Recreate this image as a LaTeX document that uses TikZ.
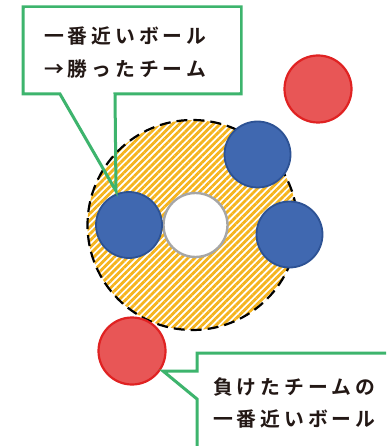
\documentclass[tikz,border=0pt]{standalone}
\usepackage{fontspec}
\usetikzlibrary{patterns.meta}
\newfontfamily\jpfont[LetterSpace=20, BoldFont={Noto Sans CJK JP Bold}]{Noto Sans CJK JP}
\definecolor{hatchorange}{HTML}{F5B41E}
\definecolor{ballblue}{HTML}{4068B0}
\definecolor{ballbluedark}{HTML}{2D5294}
\definecolor{ballred}{HTML}{E85656}
\definecolor{ballreddark}{HTML}{E02222}
\definecolor{callgreen}{HTML}{3DB46D}
\definecolor{txtdark}{HTML}{231815}
\tikzset{
  blueball/.style={circle, minimum size=66pt, inner sep=0pt, fill=ballblue, draw=ballbluedark, line width=1.8pt},
  redball/.style={circle, minimum size=67pt, inner sep=0pt, fill=ballred, draw=ballreddark, line width=2.2pt},
  holeball/.style={circle, minimum size=64pt, inner sep=0pt, fill=white, draw=gray!70, line width=2.4pt},
  zone/.style={circle, minimum size=210pt, inner sep=0pt, draw=black, line width=2.2pt, dash pattern=on 11pt off 6pt,
    pattern={Lines[angle=45, distance=4.8pt, line width=2.8pt]}, pattern color=hatchorange},
  callline/.style={draw=callgreen, line width=3pt, line join=miter},
  calltext/.style={inner sep=0pt, text=txtdark, font=\jpfont\bfseries\fontsize{19.8}{20}\selectfont, anchor=west}
}
\begin{document}
\begin{tikzpicture}[x=1pt, y=-1pt]
\useasboundingbox (0,0) rectangle (386,446);
\clip (0,0) rectangle (386,446);
\fill[white] (0,0) rectangle (386,446);
% zone
\node[zone] (zone) at (192.5,225) {};
\node[holeball] (hole) at (195.5,225) {};
\node[blueball] (b1) at (129,225) {};
\node[blueball] (b2) at (257.5,154.5) {};
\node[blueball] (b3) at (289.5,234.5) {};
\node[redball] (r1) at (318,89) {};
\node[redball] (r2) at (132,351) {};
% top callout
\coordinate (tipA) at (116,191);
\fill[white] (23,7) rectangle (241,94);
\draw[callline] (115,94) -- (241,94) -- (241,7) -- (23,7) -- (23,94) -- (60,94) -- (tipA) -- (115,94) -- cycle;
\fill[white] (24.5,8.5) rectangle (239.5,92.5);
\node[calltext] (t1) at (44,36) {一番近いボール};
\node[calltext] (t2) at (44,69) {→勝ったチーム};
% bottom callout
\coordinate (tipB) at (163,371);
\fill[white] (197,353) rectangle (400,460);
\draw[callline] (400,353) -- (197,353) -- (197,371) -- (tipB) -- (197,399) -- (197,460);
\node[calltext] (t3) at (213,387) {負けたチームの};
\node[calltext] (t4) at (213,419) {一番近いボール};
\end{tikzpicture}
\end{document}
